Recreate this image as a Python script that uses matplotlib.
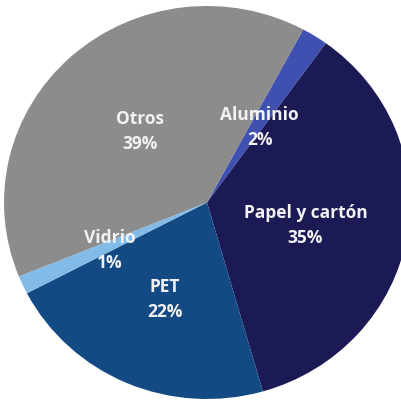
import matplotlib
matplotlib.use("Agg")
import matplotlib.pyplot as plt

# -------------------------------------------------
# Data
# -------------------------------------------------

categories = ["Aluminio", "Papel y cartón", "PET", "Vidrio", "Otros"]
shares = [2.1, 35.6, 21.8, 1.5, 39.0]
pct_labels = ["2%", "35%", "22%", "1%", "39%"]
colors = ["#3f50b0", "#1c1a54", "#134a84", "#82bbe8", "#8c8c8c"]

# label centres inside the pie (axes data coords)
label_xy = [(0.26, 0.38), (0.485, -0.117), (-0.207, -0.496), (-0.478, -0.242), (-0.33, 0.36)]

# -------------------------------------------------
# Plot
# -------------------------------------------------

fig = plt.figure(figsize=(4.02, 4.07), dpi=100)
ax = fig.add_axes([4 / 402, 8 / 407, 406 / 402, 393 / 407])

ax.pie(
    shares,
    colors=colors,
    startangle=61.7,
    counterclock=False,
    radius=1.0,
    wedgeprops={"linewidth": 0},
)
ax.set_aspect("auto")
ax.set_xlim(-1, 1)
ax.set_ylim(-1, 1)
ax.axis("off")

for name, pct, (x, y) in zip(categories, pct_labels, label_xy):
    ax.text(
        x, y, f"{name}\n{pct}",
        ha="center", va="center",
        color="#f2f2f2", fontsize=12.5, fontweight="bold",
        family="Open Sans", linespacing=1.5,
    )

fig.savefig("out.png", dpi=100)
